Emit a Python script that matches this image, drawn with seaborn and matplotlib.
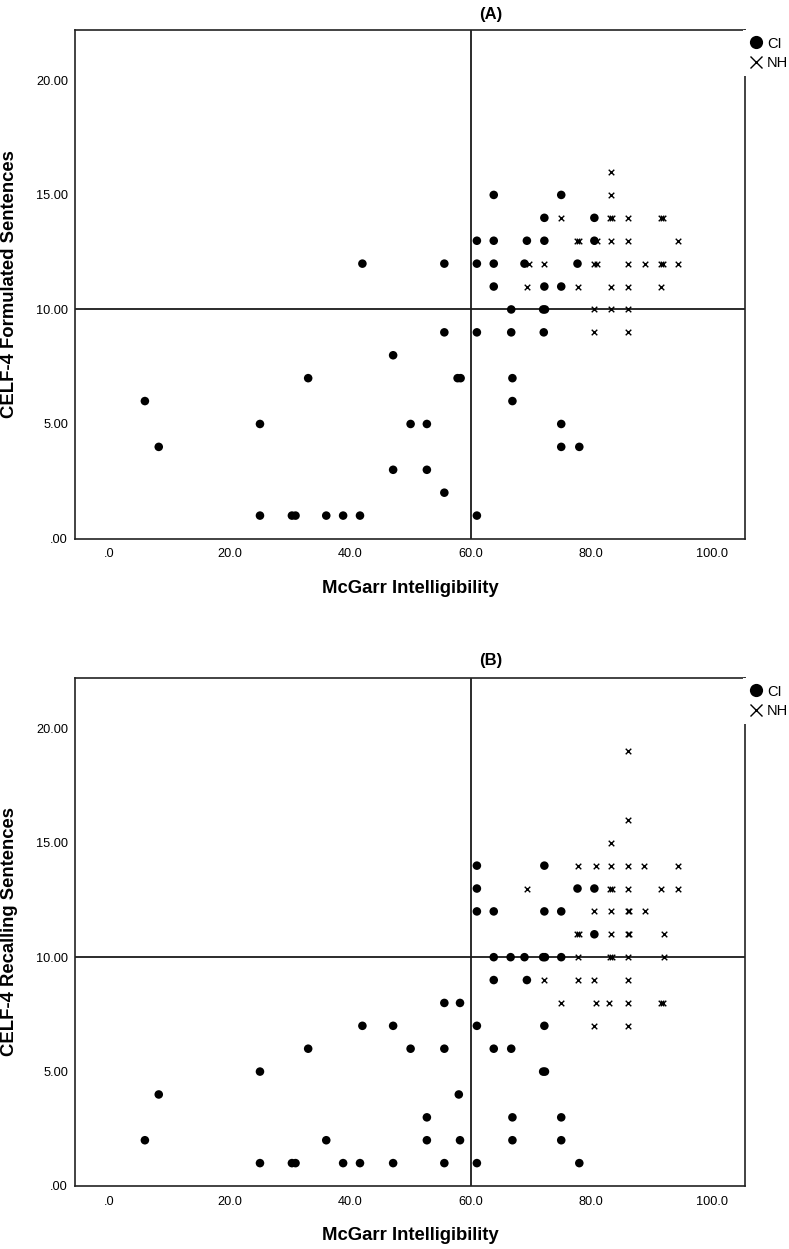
import numpy as np
import pandas as pd
import matplotlib as mpl
mpl.use("Agg")
import matplotlib.pyplot as plt
from matplotlib.lines import Line2D
from matplotlib.ticker import FuncFormatter
import seaborn as sns

sns.set_style("white")
plt.rcParams["font.family"] = ["Liberation Sans", "DejaVu Sans"]
plt.rcParams["text.color"] = "black"
plt.rcParams["axes.labelcolor"] = "black"

# ---- data ----
x_label = "McGarr Intelligibility"
y_labels = ["CELF-4 Formulated Sentences", "CELF-4 Recalling Sentences"]
panel_titles = ["(A)", "(B)"]
groups = ["CI", "NH"]
cut_x = 60
cut_y = 10
x_ticks = [0, 20, 40, 60, 80, 100]
y_ticks = [0, 5, 10, 15, 20]

# (A) formulated sentences, CI children
a_ci_x = [25, 30.3, 30.9, 36, 38.8, 41.6, 61,
          55.6,
          47.1, 52.7,
          8.2, 75, 78,
          25, 50, 52.7, 75,
          5.9, 66.9,
          33, 57.8, 58.3, 66.9,
          47.1,
          55.6, 61, 66.7, 72.1,
          66.7, 72.0, 72.3,
          63.8, 72.2, 75,
          42, 55.6, 61, 63.8, 68.9, 77.7,
          61, 63.8, 69.3, 72.2, 80.5,
          72.2, 80.5,
          63.8, 75]
a_ci_y = [1, 1, 1, 1, 1, 1, 1,
          2,
          3, 3,
          4, 4, 4,
          5, 5, 5, 5,
          6, 6,
          7, 7, 7, 7,
          8,
          9, 9, 9, 9,
          10, 10, 10,
          11, 11, 11,
          12, 12, 12, 12, 12, 12,
          13, 13, 13, 13, 13,
          14, 14,
          15, 15]
# (A) formulated sentences, NH children
a_nh_x = [80.5, 86.1,
          80.5, 83.2, 86.1,
          69.3, 77.8, 83.2, 86.1, 91.6,
          69.6, 72.2, 80.4, 81.0, 86.1, 88.9, 91.6, 91.9, 94.4,
          77.6, 77.9, 80.9, 83.2, 86.1, 94.4,
          75, 83.1, 83.4, 86.1, 91.6, 91.9,
          83.2,
          83.2]
a_nh_y = [9, 9,
          10, 10, 10,
          11, 11, 11, 11, 11,
          12, 12, 12, 12, 12, 12, 12, 12, 12,
          13, 13, 13, 13, 13, 13,
          14, 14, 14, 14, 14, 14,
          15,
          16]

# (B) recalling sentences, CI children
b_ci_x = [25, 30.3, 30.9, 38.8, 41.6, 47.1, 55.6, 61, 78,
          5.9, 36, 52.7, 58.2, 66.9, 75,
          52.7, 66.9, 75,
          8.2, 58,
          25, 72.0, 72.3,
          33, 50, 55.6, 63.8, 66.7,
          42, 47.1, 61, 72.2,
          55.6, 58.2,
          63.8, 69.3,
          63.8, 66.6, 68.9, 72.0, 72.3, 75,
          80.5,
          61, 63.8, 72.2, 75,
          61, 77.7, 80.5,
          61, 72.2]
b_ci_y = [1, 1, 1, 1, 1, 1, 1, 1, 1,
          2, 2, 2, 2, 2, 2,
          3, 3, 3,
          4, 4,
          5, 5, 5,
          6, 6, 6, 6, 6,
          7, 7, 7, 7,
          8, 8,
          9, 9,
          10, 10, 10, 10, 10, 10,
          11,
          12, 12, 12, 12,
          13, 13, 13,
          14, 14]
# (B) recalling sentences, NH children
b_nh_x = [80.5, 86.1,
          75, 80.7, 83.0, 86.1, 91.6, 91.9,
          72.2, 77.8, 80.5, 86.1,
          77.7, 83.1, 83.4, 86.1, 92.0,
          77.6, 77.9, 83.2, 86.0, 86.3, 92.0,
          80.5, 83.2, 86.0, 86.3, 88.9,
          69.3, 83.1, 83.4, 86.1, 91.6, 94.4,
          77.7, 80.7, 83.2, 86.1, 88.8, 94.4,
          83.2,
          86.1,
          86.1]
b_nh_y = [7, 7,
          8, 8, 8, 8, 8, 8,
          9, 9, 9, 9,
          10, 10, 10, 10, 10,
          11, 11, 11, 11, 11, 11,
          12, 12, 12, 12, 12,
          13, 13, 13, 13, 13, 13,
          14, 14, 14, 14, 14, 14,
          15,
          16,
          19]


def make_df(ci_x, ci_y, nh_x, nh_y):
    return pd.DataFrame({
        "x": ci_x + nh_x,
        "y": ci_y + nh_y,
        "group": ["CI"] * len(ci_x) + ["NH"] * len(nh_x),
    })


panels = [make_df(a_ci_x, a_ci_y, a_nh_x, a_nh_y),
          make_df(b_ci_x, b_ci_y, b_nh_x, b_nh_y)]

W, H = 789, 1249
fig = plt.figure(figsize=(W / 100, H / 100), dpi=100)
fig.patch.set_facecolor("white")

# axes boxes in pixels: left, top, right, bottom
boxes = [(75, 30, 745, 538.5), (75, 678, 745, 1186)]
title_gap = [15, 18]


def lead_zero(fmt):
    def f(v, pos):
        s = fmt.format(v)
        return s[1:] if s.startswith("0") else s
    return FuncFormatter(f)


for i, df in enumerate(panels):
    l, t, r, b = boxes[i]
    ax = fig.add_axes([l / W, 1 - b / H, (r - l) / W, (b - t) / H])
    h_ax = b - t
    w_ax = r - l

    ax.axvline(cut_x, color="#1a1a1a", lw=1.3, zorder=1.5)
    ax.axhline(cut_y, color="#1a1a1a", lw=1.3, zorder=1.5)

    sns.scatterplot(data=df[df["group"] == "CI"], x="x", y="y", ax=ax,
                    marker="o", s=38, color="black", edgecolor="none",
                    zorder=3, legend=False)
    sns.scatterplot(data=df[df["group"] == "NH"], x="x", y="y", ax=ax,
                    marker="x", s=16, color="black", linewidth=1.0,
                    zorder=3, legend=False)

    ax.set_xlim(-5.7, 105.5)
    ax.set_ylim(0, 22.2)
    ax.set_xticks(x_ticks)
    ax.set_yticks(y_ticks)
    ax.xaxis.set_major_formatter(lead_zero("{:.1f}"))
    ax.yaxis.set_major_formatter(lead_zero("{:.2f}"))
    ax.tick_params(axis="x", length=0, pad=7, labelsize=9.2, colors="black")
    ax.tick_params(axis="y", length=0, pad=5, labelsize=9.2, colors="black")

    for sp in ax.spines.values():
        sp.set_visible(True)
        sp.set_color("#222222")
        sp.set_linewidth(1.2)

    ax.set_xlabel(x_label, fontsize=13.3, fontweight="bold", va="center")
    ax.xaxis.set_label_coords(0.5, -50 / h_ax)
    ax.set_ylabel(y_labels[i], fontsize=13.3, fontweight="bold", va="center")
    ax.yaxis.set_label_coords(-65 / w_ax, 0.5)

    ax.text(0.621, 1 + title_gap[i] / h_ax, panel_titles[i], transform=ax.transAxes,
            ha="center", va="center", fontsize=12, fontweight="bold")

    handles = [Line2D([], [], marker="o", color="black", linestyle="",
                      markersize=9.5, markeredgewidth=0),
               Line2D([], [], marker="x", color="black", linestyle="",
                      markersize=8, markeredgewidth=1.0)]
    leg = ax.legend(handles, groups, loc="upper left",
                    bbox_to_anchor=(-2 / w_ax + 1, 1.0), borderaxespad=0,
                    frameon=True, fancybox=False, framealpha=1,
                    handlelength=0.9, handletextpad=0.3, labelspacing=0.35,
                    borderpad=0.45, fontsize=10.5)
    leg.get_frame().set_edgecolor("white")
    leg.get_frame().set_facecolor("white")
    leg.get_frame().set_linewidth(0)

fig.savefig("out.png", dpi=100, facecolor="white")
